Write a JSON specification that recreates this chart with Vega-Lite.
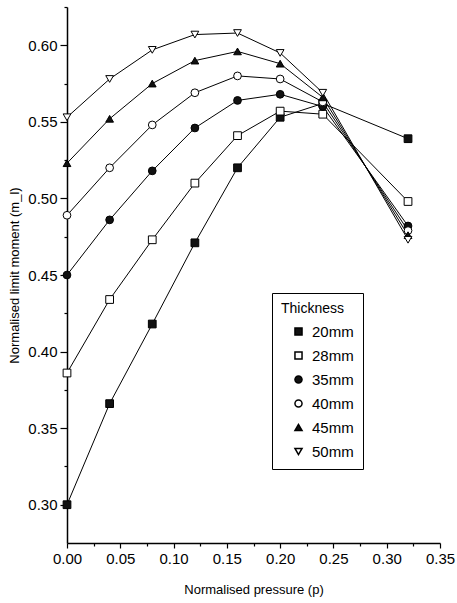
{
  "$schema": "https://vega.github.io/schema/vega-lite/v6.json",
  "width": 373,
  "height": 536,
  "autosize": {"type": "none"},
  "padding": {"left": 67, "top": 7, "right": 17, "bottom": 60},
  "background": "white",
  "config": {
    "view": {"stroke": null},
    "font": "Liberation Sans",
    "axis": {"grid": false, "domainColor": "black", "tickColor": "black", "labelColor": "black", "titleColor": "black", "labelFont": "Liberation Sans", "titleFont": "Liberation Sans", "titleFontWeight": "normal", "domainWidth": 1.5, "tickWidth": 1.2, "labelFlush": false}
  },
  "data": {
    "values": [
      {"t": "20mm", "p": 0.00, "m": 0.300}, {"t": "20mm", "p": 0.04, "m": 0.366}, {"t": "20mm", "p": 0.08, "m": 0.418}, {"t": "20mm", "p": 0.12, "m": 0.471},
      {"t": "20mm", "p": 0.16, "m": 0.520}, {"t": "20mm", "p": 0.20, "m": 0.553}, {"t": "20mm", "p": 0.24, "m": 0.562}, {"t": "20mm", "p": 0.32, "m": 0.539},
      {"t": "28mm", "p": 0.00, "m": 0.386}, {"t": "28mm", "p": 0.04, "m": 0.434}, {"t": "28mm", "p": 0.08, "m": 0.473}, {"t": "28mm", "p": 0.12, "m": 0.510},
      {"t": "28mm", "p": 0.16, "m": 0.541}, {"t": "28mm", "p": 0.20, "m": 0.557}, {"t": "28mm", "p": 0.24, "m": 0.555}, {"t": "28mm", "p": 0.32, "m": 0.498},
      {"t": "35mm", "p": 0.00, "m": 0.450}, {"t": "35mm", "p": 0.04, "m": 0.486}, {"t": "35mm", "p": 0.08, "m": 0.518}, {"t": "35mm", "p": 0.12, "m": 0.546},
      {"t": "35mm", "p": 0.16, "m": 0.564}, {"t": "35mm", "p": 0.20, "m": 0.568}, {"t": "35mm", "p": 0.24, "m": 0.560}, {"t": "35mm", "p": 0.32, "m": 0.482},
      {"t": "40mm", "p": 0.00, "m": 0.489}, {"t": "40mm", "p": 0.04, "m": 0.520}, {"t": "40mm", "p": 0.08, "m": 0.548}, {"t": "40mm", "p": 0.12, "m": 0.569},
      {"t": "40mm", "p": 0.16, "m": 0.580}, {"t": "40mm", "p": 0.20, "m": 0.578}, {"t": "40mm", "p": 0.24, "m": 0.563}, {"t": "40mm", "p": 0.32, "m": 0.479},
      {"t": "45mm", "p": 0.00, "m": 0.523}, {"t": "45mm", "p": 0.04, "m": 0.552}, {"t": "45mm", "p": 0.08, "m": 0.575}, {"t": "45mm", "p": 0.12, "m": 0.590},
      {"t": "45mm", "p": 0.16, "m": 0.596}, {"t": "45mm", "p": 0.20, "m": 0.588}, {"t": "45mm", "p": 0.24, "m": 0.566}, {"t": "45mm", "p": 0.32, "m": 0.476},
      {"t": "50mm", "p": 0.00, "m": 0.553}, {"t": "50mm", "p": 0.04, "m": 0.578}, {"t": "50mm", "p": 0.08, "m": 0.597}, {"t": "50mm", "p": 0.12, "m": 0.607},
      {"t": "50mm", "p": 0.16, "m": 0.608}, {"t": "50mm", "p": 0.20, "m": 0.595}, {"t": "50mm", "p": 0.24, "m": 0.569}, {"t": "50mm", "p": 0.32, "m": 0.473}
    ]
  },
  "resolve": {"axis": {"x": "independent", "y": "independent"}},
  "layer": [
    {
      "mark": {"type": "line", "color": "black", "strokeWidth": 1},
      "encoding": {
        "x": {"field": "p", "type": "quantitative", "scale": {"domain": [0, 0.35], "nice": false, "zero": false},
          "axis": {"orient": "bottom", "values": [0.025, 0.075, 0.125, 0.175, 0.225, 0.275, 0.325], "labels": false, "domain": false, "tickSize": 3, "title": null}},
        "y": {"field": "m", "type": "quantitative", "scale": {"domain": [0.275, 0.625], "nice": false, "zero": false},
          "axis": {"orient": "left", "values": [0.325, 0.375, 0.425, 0.475, 0.525, 0.575, 0.625], "labels": false, "domain": false, "tickSize": 3, "title": null}},
        "detail": {"field": "t"}
      }
    },
    {
      "mark": {"type": "point", "filled": true, "stroke": "black", "strokeWidth": 1, "size": 60, "opacity": 1},
      "encoding": {
        "x": {"field": "p", "type": "quantitative",
          "axis": {"orient": "bottom", "values": [0, 0.05, 0.1, 0.15, 0.2, 0.25, 0.3, 0.35], "format": ".2f", "tickSize": 5, "labelFontSize": 15, "labelPadding": 3, "titleFontSize": 13, "titlePadding": 17, "title": "Normalised pressure (p)"}},
        "y": {"field": "m", "type": "quantitative",
          "axis": {"orient": "left", "values": [0.3, 0.35, 0.4, 0.45, 0.5, 0.55, 0.6], "format": ".2f", "tickSize": 7, "labelFontSize": 15, "labelPadding": 3, "titleFontSize": 13, "titlePadding": 6, "title": "Normalised limit moment (m_l)"}},
        "shape": {"field": "t", "type": "nominal",
          "scale": {"domain": ["20mm", "28mm", "35mm", "40mm", "45mm", "50mm"], "range": ["square", "square", "circle", "circle", "triangle-up", "triangle-down"]},
          "legend": {
            "title": "Thickness", "orient": "none", "legendX": 205, "legendY": 286,
            "strokeColor": "black", "padding": 9, "titleFontSize": 14, "titleFontWeight": "normal", "titleColor": "black", "titleFont": "Liberation Sans",
            "labelFontSize": 15, "labelColor": "black", "labelFont": "Liberation Sans", "symbolSize": 50, "rowPadding": 8, "symbolOffset": 10, "labelOffset": 6,
            "titlePadding": 8
          }},
        "fill": {"field": "t", "type": "nominal",
          "scale": {"domain": ["20mm", "28mm", "35mm", "40mm", "45mm", "50mm"], "range": ["#111111", "white", "#111111", "white", "#111111", "white"]}}
      }
    }
  ]
}
